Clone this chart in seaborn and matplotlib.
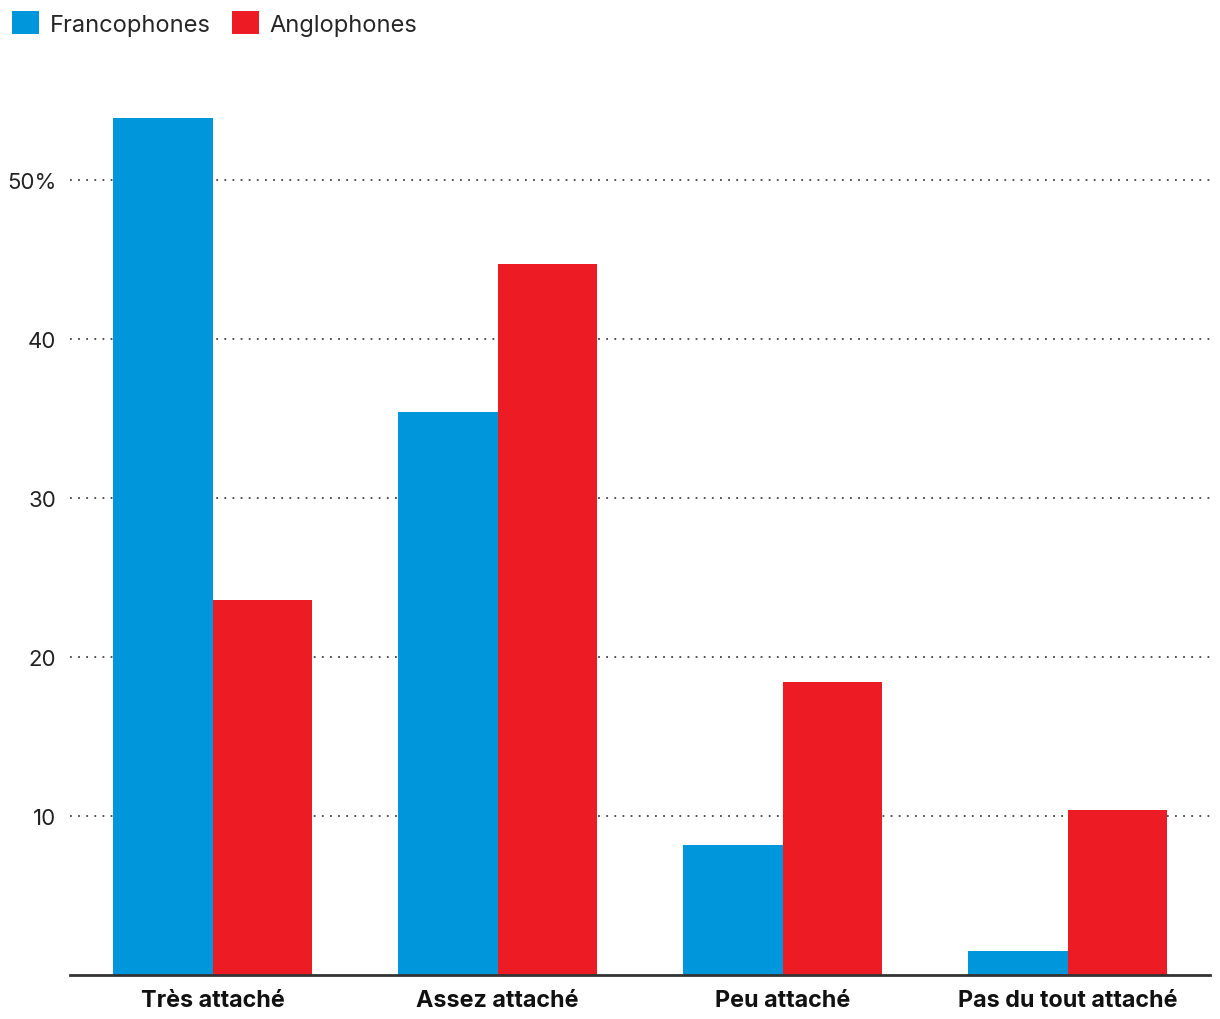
import matplotlib
matplotlib.use("Agg")
import matplotlib.pyplot as plt
import seaborn as sns
import pandas as pd
from matplotlib.patches import Patch

categories = ["Très attaché", "Assez attaché", "Peu attaché", "Pas du tout attaché"]
francophones = [53.9, 35.4, 8.2, 1.5]
anglophones = [23.6, 44.7, 18.4, 10.4]
series_names = ["Francophones", "Anglophones"]
colors = ["#0096DB", "#ED1C24"]
yticks = [10, 20, 30, 40, 50]
ytick_labels = ["10", "20", "30", "40", "50%"]

df = pd.DataFrame({
    "cat": categories * 2,
    "val": francophones + anglophones,
    "grp": [series_names[0]] * 4 + [series_names[1]] * 4,
})

sns.set_theme(style="white")
plt.rcParams["font.family"] = ["Inter", "DejaVu Sans"]

fig = plt.figure(figsize=(12.2, 10.2), dpi=100)
ax = fig.add_axes([0.0574, 0.0431, 0.9344, 0.889])
sns.barplot(data=df, x="cat", y="val", hue="grp", palette=colors,
            width=0.7, saturation=1, ax=ax, legend=False, zorder=3)
for p in ax.patches:
    p.set_edgecolor("none")

ax.set_xlim(-0.5, 3.5)
ax.set_ylim(0, 57)
ax.set_yticks(yticks)
ax.set_yticklabels(ytick_labels, fontsize=16, color="#222222")
ax.set_xlabel("")
ax.set_ylabel("")
for t in ax.get_xticklabels():
    t.set_fontweight("bold")
    t.set_fontsize(16.8)
    t.set_color("#111111")
ax.tick_params(axis="both", length=0)
ax.tick_params(axis="y", pad=10)
ax.tick_params(axis="x", pad=10)
ax.yaxis.grid(True, linestyle=(0, (1, 3.5)), color="#444444", linewidth=1.3)
ax.set_axisbelow(True)
for s in ["top", "right", "left"]:
    ax.spines[s].set_visible(False)
ax.spines["bottom"].set_color("#333333")
ax.spines["bottom"].set_linewidth(2)
ax.spines["bottom"].set_zorder(4)

handles = [Patch(facecolor=c, edgecolor="none") for c in colors]
fig.legend(handles, series_names, loc="upper left", bbox_to_anchor=(0.0, 1.0),
           ncol=2, frameon=False, fontsize=17, handlelength=1.15, handleheight=1.15,
           handletextpad=0.45, columnspacing=0.9, borderaxespad=0.0,
           borderpad=0.5)

fig.savefig("out.png", dpi=100)
